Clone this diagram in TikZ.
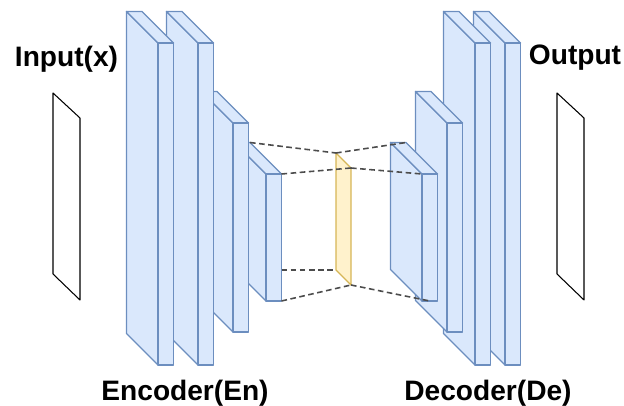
\documentclass[tikz,border=0pt]{standalone}
\usepackage{fontspec}
\setsansfont{Liberation Sans}
\usepackage{tikz}
\usetikzlibrary{calc}

\definecolor{layerfill}{HTML}{DAE8FC}
\definecolor{layerdraw}{HTML}{6C8EBF}
\definecolor{codefill}{HTML}{FFF2CC}
\definecolor{codedraw}{HTML}{D6B656}

% one convolution block: name, x and y of the front top-left corner, height
\newcommand{\convlayer}[4]{
	\coordinate (#1-ftl) at (#2,#3);
	\coordinate (#1-ftr) at (#2+15.5,#3);
	\coordinate (#1-fbl) at (#2,#3+#4);
	\coordinate (#1-fbr) at (#2+15.5,#3+#4);
	\coordinate (#1-btl) at (#2-31.5,#3-31.5);
	\coordinate (#1-btr) at (#2-16,#3-31.5);
	\coordinate (#1-bbl) at (#2-31.5,#3+#4-31.5);
	\draw[layer_style] (#1-ftl) -- (#1-btl) -- (#1-bbl) -- (#1-fbl) -- cycle;
	\draw[layer_style] (#1-ftl) -- (#1-btl) -- (#1-btr) -- (#1-ftr) -- cycle;
	\draw[layer_style] (#1-ftl) rectangle (#1-fbr);
}

\begin{document}
\begin{tikzpicture}[x=0.02cm, y=-0.02cm,
		layer_style/.style={draw=layerdraw, fill=layerfill, line width=0.75pt, line join=round},
		plane_style/.style={draw=black, fill=white, line width=0.6pt, line join=round},
		code_style/.style={draw=codedraw, fill=codefill, line width=0.75pt, line join=round},
		link_style/.style={draw=black!70, line width=0.9pt, dash pattern=on 3.2pt off 2pt},
		label_style/.style={inner sep=0pt, anchor=base, font=\sffamily\bfseries\fontsize{16}{19}\selectfont}]

		\useasboundingbox (0,0) rectangle (624,405);

		% input and output images
		\coordinate (in1) at (53,93);
		\coordinate (in2) at (80,118);
		\coordinate (in3) at (80,300);
		\coordinate (in4) at (53,274);
		\draw[plane_style] (in1) -- (in2) -- (in3) -- (in4) -- cycle;
		\coordinate (out1) at (557,93);
		\coordinate (out2) at (584,118);
		\coordinate (out3) at (584,300);
		\coordinate (out4) at (557,274);
		\draw[plane_style] (out1) -- (out2) -- (out3) -- (out4) -- cycle;

		% encoder, back to front
		\convlayer{en4}{266}{174}{127}
		\convlayer{en3}{233}{123}{209}
		\convlayer{en2}{198}{43}{322}
		\convlayer{en1}{158}{43}{322}

		% decoder, back to front
		\convlayer{de4}{505}{43}{322}
		\convlayer{de3}{475}{43}{322}
		\convlayer{de2}{447}{123}{209}
		\convlayer{de1}{422}{174}{127}

		% bottleneck
		\coordinate (z1) at (336,153);
		\coordinate (z2) at (351,168);
		\coordinate (z3) at (351,285);
		\coordinate (z4) at (336,270);
		\draw[code_style] (z1) -- (z2) -- (z3) -- (z4) -- cycle;

		\draw[link_style] (en4-btr) -- (z1);
		\draw[link_style] (en4-ftr) -- (z2);
		\draw[link_style] (z4 -| en4-fbr) -- (z4);
		\draw[link_style] (en4-fbr) -- (z3);
		\draw[link_style] (z1) -- (de1-btr);
		\draw[link_style] (z2) -- (de1-ftl);
		\draw[link_style] (z3) -- ($(de1-fbl)!0.5!(de1-fbr)$);

		\node[label_style] (inlabel) at (66.5,67) {Input(x)};
		\node[label_style] (outlabel) at (575,65) {Output};
		\node[label_style] (enlabel) at (185,400) {Encoder(En)};
		\node[label_style] (delabel) at (488,400) {Decoder(De)};
\end{tikzpicture}
\end{document}
